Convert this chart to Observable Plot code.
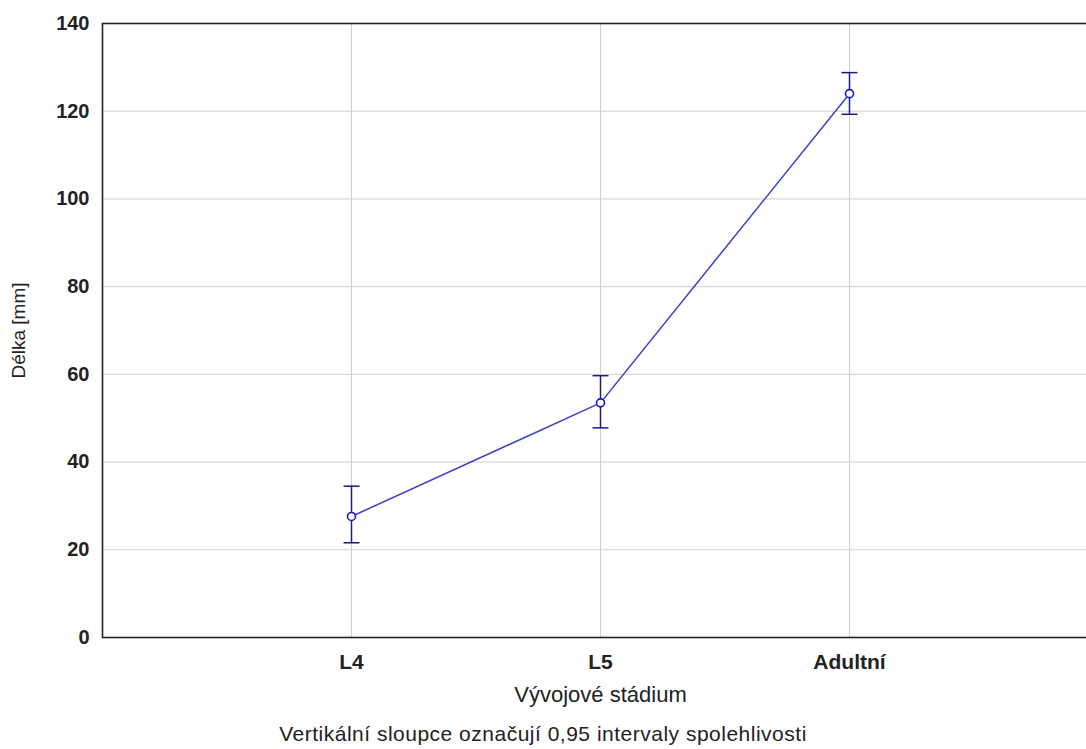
<!DOCTYPE html>
<html><head><meta charset="utf-8">
<script src="https://cdn.jsdelivr.net/npm/d3@7"></script>
<script src="https://cdn.jsdelivr.net/npm/@observablehq/plot@0.6"></script>
<style>
html,body{margin:0;padding:0;overflow:hidden;background:#fff;width:1086px;height:749px;position:relative}
#chart svg{display:block;max-width:none}
#caption{position:absolute;left:0;width:1086px;top:722px;text-align:center;font:21px "Liberation Sans",Arial,sans-serif;letter-spacing:0.5px;color:#222;line-height:24px}
</style></head><body>
<div id="chart"></div>
<div id="caption">Vertikální sloupce označují 0,95 intervaly spolehlivosti</div>
<script>
const stages = ["L4", "L5", "Adultní"];
const means = [27.6, 53.5, 124.0];
const lower = [21.6, 47.8, 119.3];
const upper = [34.5, 59.7, 128.8];
const yTicks = [0, 20, 40, 60, 80, 100, 120, 140];
const yLabel = "Délka [mm]";
const xLabel = "Vývojové stádium";

const data = stages.map((s, i) => ({stage: s, mean: means[i], lo: lower[i], hi: upper[i]}));

// horizontal cap symbol for the error bars
const cap = {draw(ctx) { ctx.moveTo(-8, 0); ctx.lineTo(8, 0); }};

const plot = Plot.plot({
  width: 1098, height: 712,
  marginLeft: 102, marginRight: 0, marginTop: 23, marginBottom: 75,
  style: {fontFamily: '"Liberation Sans", Arial, sans-serif', background: "#fff"},
  x: {type: "point", domain: stages, padding: 1, label: null},
  y: {domain: [0, 140], ticks: yTicks, label: null},
  marks: [
    Plot.gridX(stages, {stroke: "#cfcfcf", strokeOpacity: 1}),
    Plot.gridY(yTicks, {stroke: "#cfcfcf", strokeOpacity: 1}),
    Plot.axisY(yTicks, {tickSize: 0, tickPadding: 13, fontSize: 20, fontWeight: "bold", fill: "#222", label: null}),
    Plot.axisY([], {fontSize: 19, fill: "#222", letterSpacing: 1,
      label: yLabel, labelAnchor: "center", labelArrow: "none", labelOffset: 91}),
    Plot.axisX(stages, {tickSize: 0, tickPadding: 17, fontSize: 21, fontWeight: "bold", fill: "#222", label: null}),
    Plot.axisX([], {fontSize: 22, fill: "#222", letterSpacing: 0.8,
      label: xLabel, labelAnchor: "center", labelArrow: "none", labelOffset: 64}),
    Plot.frame({stroke: "#222", strokeWidth: 1.6}),
    Plot.line(data, {x: "stage", y: "mean", stroke: "#3d3dcc", strokeWidth: 1.5}),
    Plot.ruleX(data, {x: "stage", y1: "lo", y2: "hi", stroke: "#1c1c80", strokeWidth: 1.5}),
    Plot.dot(data, {x: "stage", y: "lo", symbol: cap, stroke: "#1c1c80", strokeWidth: 1.5}),
    Plot.dot(data, {x: "stage", y: "hi", symbol: cap, stroke: "#1c1c80", strokeWidth: 1.5}),
    Plot.dot(data, {x: "stage", y: "mean", r: 4, stroke: "#1414cc", fill: "white", strokeWidth: 1.6})
  ]
});
document.getElementById("chart").appendChild(plot);
</script>
</body></html>
